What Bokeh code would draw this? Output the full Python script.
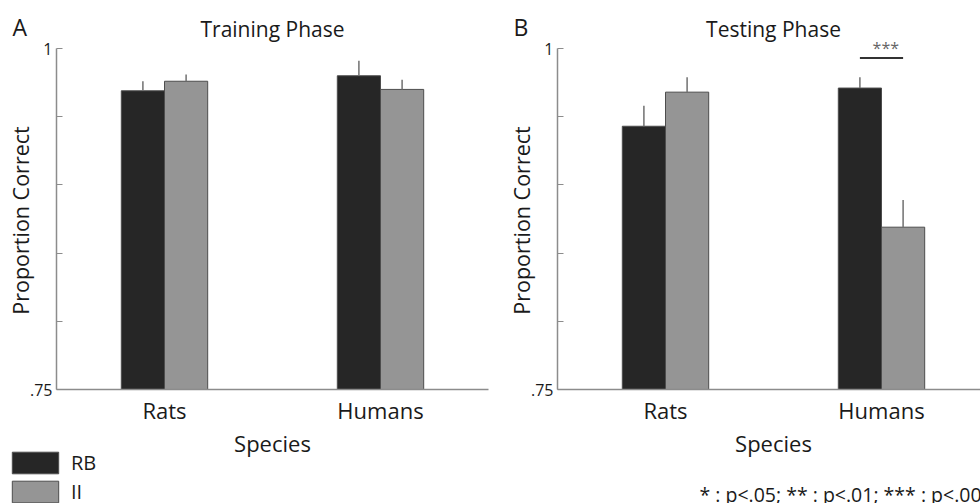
import numpy as np
from bokeh.plotting import figure
from bokeh.models import Range1d, FixedTicker, Label, Legend, LegendItem, ColumnDataSource
from bokeh.layouts import row
from bokeh.embed import file_html
from bokeh.resources import INLINE

# ---------------- data ----------------
species = ["Rats", "Humans"]
conditions = ["RB", "II"]

train_rb = [0.969, 0.980]
train_rb_err = [0.007, 0.011]
train_ii = [0.976, 0.970]
train_ii_err = [0.005, 0.007]

test_rb = [0.943, 0.971]
test_rb_err = [0.015, 0.008]
test_ii = [0.968, 0.869]
test_ii_err = [0.011, 0.020]

y_ticks = [0.75, 1.0]
y_tick_labels = [".75", "1"]
y_minor_ticks = [0.80, 0.85, 0.90, 0.95]

panel_titles = ["Training Phase", "Testing Phase"]
panel_letters = ["A", "B"]
x_label = "Species"
y_label = "Proportion Correct"
sig_text = "***"
sig_level = 0.993
footnote = "* : p<.05; ** : p<.01; *** : p<.001"

# ---------------- style / layout ----------------
FONT = "Open Sans"
TEXT_COLOR = "#1a1a1a"
RB_COLOR = "#262626"
II_COLOR = "#959595"
EDGE_COLOR = "#4d4d4d"
ERR_COLOR = "#707070"
AXIS_COLOR = "#8c8c8c"
BAR_W = 0.2

FIG_H = 503
AXIS_Y = 389.0                # page y of the x axis (value y_ticks[0])
TOP_Y = 48.0                  # page y of value y_ticks[-1]
PX_PER_Y = (AXIS_Y - TOP_Y) / (y_ticks[-1] - y_ticks[0])
PX_PER_X = 216.0
BASE_K = 0.39                 # empirical baseline correction (fraction of font size)


def dx(px, axis_x):
    return 0.5 + (px - axis_x) / PX_PER_X


def dy(py):
    return y_ticks[0] + (AXIS_Y - py) / PX_PER_Y


def make_panel(idx, rb, rb_err, ii, ii_err, page_left, width, axis_x):
    p = figure(width=width, height=FIG_H, output_backend="svg", toolbar_location=None,
               x_range=Range1d(dx(page_left, axis_x), dx(page_left + width, axis_x)),
               y_range=Range1d(dy(FIG_H), dy(0)),
               min_border=0, min_border_left=0, min_border_right=0,
               min_border_top=0, min_border_bottom=0)
    p.outline_line_color = None
    p.xgrid.visible = False
    p.ygrid.visible = False
    p.background_fill_color = "white"
    p.border_fill_color = "white"

    xs = np.arange(1, len(species) + 1)
    src_rb = ColumnDataSource(dict(x=xs - BAR_W / 2, top=rb, err_top=np.array(rb) + np.array(rb_err)))
    src_ii = ColumnDataSource(dict(x=xs + BAR_W / 2, top=ii, err_top=np.array(ii) + np.array(ii_err)))

    r_rb = p.vbar(x="x", top="top", bottom=y_ticks[0], width=BAR_W, source=src_rb,
                  fill_color=RB_COLOR, line_color=EDGE_COLOR, line_width=1)
    r_ii = p.vbar(x="x", top="top", bottom=y_ticks[0], width=BAR_W, source=src_ii,
                  fill_color=II_COLOR, line_color=EDGE_COLOR, line_width=1)
    for src in (src_rb, src_ii):
        p.segment(x0="x", y0="top", x1="x", y1="err_top", source=src,
                  line_color=ERR_COLOR, line_width=1.5)

    # x axis
    xa = p.xaxis[0]
    xa.fixed_location = y_ticks[0]
    xa.bounds = (0.5, len(species) + 0.5)
    xa.ticker = FixedTicker(ticks=list(xs))
    xa.major_label_overrides = {int(x): s for x, s in zip(xs, species)}
    xa.major_tick_in = 0
    xa.major_tick_out = 0
    xa.minor_tick_in = 0
    xa.minor_tick_out = 0
    xa.axis_line_color = AXIS_COLOR
    xa.axis_line_width = 1.5
    xa.major_label_text_font = FONT
    xa.major_label_text_font_size = "22px"
    xa.major_label_text_color = TEXT_COLOR
    xa.major_label_standoff = 5

    # y axis
    ya = p.yaxis[0]
    ya.fixed_location = 0.5
    ya.bounds = (y_ticks[0], y_ticks[-1])
    ya.ticker = FixedTicker(ticks=y_ticks, minor_ticks=y_minor_ticks)
    ya.major_label_overrides = {t: s for t, s in zip(y_ticks, y_tick_labels)}
    ya.major_tick_in = 6
    ya.major_tick_out = 0
    ya.minor_tick_in = 6
    ya.minor_tick_out = 0
    ya.major_tick_line_color = AXIS_COLOR
    ya.minor_tick_line_color = AXIS_COLOR
    ya.axis_line_color = AXIS_COLOR
    ya.axis_line_width = 1.5
    ya.major_label_text_font = FONT
    ya.major_label_text_font_size = "16px"
    ya.major_label_text_color = TEXT_COLOR
    ya.major_label_standoff = 4

    shift = axis_x - 56  # panel offset relative to panel A

    # panel letter, title, axis labels
    p.add_layout(Label(x=dx(12 + shift, axis_x), y=dy(35 - BASE_K * 23), text=panel_letters[idx],
                       text_font=FONT, text_font_size="23px", text_color=TEXT_COLOR,
                       text_align="left", text_baseline="alphabetic"))
    p.add_layout(Label(x=1.5, y=dy(36.7 - BASE_K * 21), text=panel_titles[idx],
                       text_font=FONT, text_font_size="21px", text_color=TEXT_COLOR,
                       text_align="center", text_baseline="alphabetic"))
    p.add_layout(Label(x=1.5, y=dy(451.5 - BASE_K * 22), text=x_label,
                       text_font=FONT, text_font_size="22px", text_color=TEXT_COLOR,
                       text_align="center", text_baseline="alphabetic"))
    p.add_layout(Label(x=dx(28.5 - BASE_K * 21.5 + shift, axis_x), y=dy(220), text=y_label,
                       text_font=FONT, text_font_size="21.5px", text_color=TEXT_COLOR,
                       text_align="center", text_baseline="alphabetic", angle=np.pi / 2))
    return p, r_rb, r_ii


pA, rA_rb, rA_ii = make_panel(0, train_rb, train_rb_err, train_ii, train_ii_err, 0, 500, 56)
pB, rB_rb, rB_ii = make_panel(1, test_rb, test_rb_err, test_ii, test_ii_err, 500, 480, 557)

# legend (panel A, bottom-left); location = bottom-left corner, measured from the frame bottom
legend = Legend(items=[LegendItem(label=conditions[0], renderers=[rA_rb]),
                       LegendItem(label=conditions[1], renderers=[rA_ii])],
                location=(6, -2), orientation="vertical", padding=0, margin=0, spacing=2,
                glyph_width=58, glyph_height=27, label_standoff=7,
                border_line_color=None, background_fill_alpha=0,
                label_text_font=FONT, label_text_font_size="20px", label_text_color=TEXT_COLOR)
pA.add_layout(legend)

# significance marker (panel B, humans)
hx = 2
pB.segment(x0=[hx - BAR_W / 2], y0=[sig_level], x1=[hx + BAR_W / 2], y1=[sig_level],
           line_color="#333333", line_width=2)
pB.add_layout(Label(x=hx + 0.02, y=dy(47), text=sig_text, text_font=FONT, text_font_size="16px",
                    text_color="#666666", text_align="center", text_baseline="alphabetic"))

# footnote
pB.add_layout(Label(x=dx(699, 557), y=dy(494), text=footnote, text_font=FONT, text_font_size="19.5px",
                    text_color=TEXT_COLOR, text_align="left", text_baseline="alphabetic"))

layout = row(pA, pB, spacing=0)
open("out.html", "w").write(file_html(layout, INLINE))
